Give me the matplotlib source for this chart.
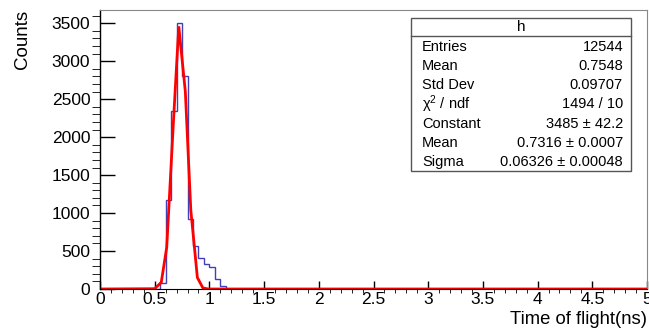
import numpy as np
import matplotlib
matplotlib.use('Agg')
import matplotlib.pyplot as plt
from matplotlib.ticker import MultipleLocator, AutoMinorLocator, FormatStrFormatter
from matplotlib.patches import Rectangle

plt.rcParams['font.family'] = ['Liberation Sans', 'DejaVu Sans']
plt.rcParams['mathtext.default'] = 'regular'

# histogram: 100 bins of 0.05 ns from 0 to 5, only these bins are filled
bin_lo = [0.55, 0.60, 0.65, 0.70, 0.75, 0.80, 0.85, 0.90, 0.95, 1.00, 1.05, 1.10]
counts = [80, 1170, 2340, 3500, 2800, 925, 566, 408, 333, 290, 132, 40]

# red fit curve (gaus)
fit_x = [0.0, 0.50, 0.56, 0.61, 0.67, 0.72, 0.78, 0.83, 0.89, 0.94, 0.99, 5.0]
fit_y = [0, 4, 88, 550, 2169, 3460, 2600, 1039, 151, 15, 0, 0]

stat_names = ['Entries', 'Mean', 'Std Dev', 'χ$^{2}$ / ndf', 'Constant', 'Mean', 'Sigma']
stat_values = ['12544', '0.7548', '0.09707', '1494 / 10', '3485 ± 42.2',
               '0.7316 ± 0.0007', '0.06326 ± 0.00048']

edges = np.linspace(0, 5, 101)
h = np.zeros(100)
for lo, c in zip(bin_lo, counts):
    h[int(round(lo / 0.05))] = c

fig = plt.figure(figsize=(6.49, 3.33), dpi=100)
ax = fig.add_axes([100 / 649, 44 / 333, 547 / 649, 279 / 333])

ax.stairs(h, edges, color='#4040bb', lw=1.0, baseline=0)
ax.plot(fit_x, fit_y, color='#ff0000', lw=2.0, solid_joinstyle='miter')

ax.set_xlim(0, 5)
ax.set_ylim(0, 3675)
ax.xaxis.set_major_locator(MultipleLocator(0.5))
ax.xaxis.set_minor_locator(AutoMinorLocator(5))
ax.yaxis.set_major_locator(MultipleLocator(500))
ax.yaxis.set_minor_locator(AutoMinorLocator(5))
ax.xaxis.set_major_formatter(FormatStrFormatter('%g'))
ax.tick_params(axis='both', direction='in', labelsize=12.5, top=False, right=False,
               width=1.0, colors='black')
ax.tick_params(axis='y', which='major', length=11, pad=7)
ax.tick_params(axis='y', which='minor', length=5.5)
ax.tick_params(axis='x', which='major', length=6, pad=2)
ax.tick_params(axis='x', which='minor', length=3)
for s in ['top', 'right']:
    ax.spines[s].set_color('#888888')
ax.spines['left'].set_linewidth(1.0)

ax.set_xlabel('Time of flight(ns)', fontsize=13.3, loc='right', labelpad=3)
ax.set_ylabel('Counts', fontsize=13.5, loc='top', labelpad=15)

# stats box
bx0, by0, bw, bh = 411 / 649, 1 - 171 / 333, 220 / 649, 153 / 333
fig.patches.append(Rectangle((bx0, by0), bw, bh, transform=fig.transFigure,
                             facecolor='white', edgecolor='#555555', lw=1.0, zorder=6))
fig.lines.append(plt.Line2D([bx0, bx0 + bw], [1 - 36 / 333] * 2, transform=fig.transFigure,
                            color='#555555', lw=1.0, zorder=7))
fig.text(bx0 + bw / 2, 1 - 27 / 333, 'h', ha='center', va='center', fontsize=11, zorder=8)
for i, (n, v) in enumerate(zip(stat_names, stat_values)):
    yy = 1 - (46.7 + 19.2 * i) / 333
    fig.text(422 / 649, yy, n, ha='left', va='center', fontsize=10.5, zorder=8)
    fig.text(623 / 649, yy, v, ha='right', va='center', fontsize=10.5, zorder=8)

fig.savefig('out.png', dpi=100)
